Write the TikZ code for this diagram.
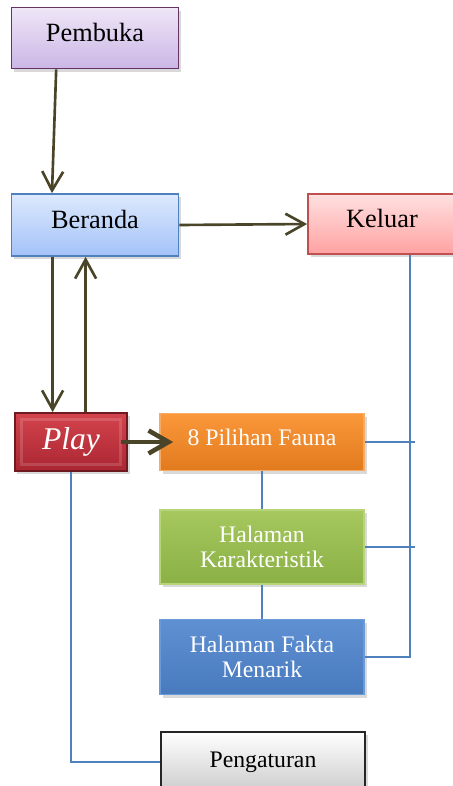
\documentclass[tikz,border=0pt]{standalone}
\usepackage{fontspec}
\setmainfont{Liberation Serif}
\usetikzlibrary{calc,arrows.meta,shadows}

\definecolor{arrowcol}{HTML}{4A4529}
\definecolor{linkcol}{HTML}{4F81BD}

\begin{document}
\begin{tikzpicture}[
    box/.style={rectangle,draw,line width=1pt,inner sep=2pt,align=center,
      drop shadow={opacity=0.3,shadow xshift=0.05,shadow yshift=-0.06}},
    bigtext/.style={font=\fontsize{15}{17}\selectfont,text height=0.3cm,text depth=0.18cm},
    smalltext/.style={font=\fontsize{13.5}{14.2}\selectfont,text=white},
    flow/.style={draw=arrowcol,line width=1.5pt,-{Straight Barb[length=0.38cm,width=0.42cm]}},
    link/.style={draw=linkcol,line width=0.8pt}
  ]
  \clip (0,0) rectangle (9.06,-15.72);
  % top row
  \node[box,bigtext,minimum width=3.34cm,minimum height=1.22cm,draw=violet!50!black!80,
    top color={rgb,255:red,239;green,230;blue,247},bottom color={rgb,255:red,203;green,182;blue,229}]
    (pembuka) at (1.9,-0.76) {Pembuka};
  \node[box,bigtext,minimum width=3.34cm,minimum height=1.24cm,draw=linkcol,
    top color={rgb,255:red,221;green,233;blue,253},bottom color={rgb,255:red,163;green,194;blue,248}]
    (beranda) at (1.9,-4.5) {Beranda};
  \node[box,bigtext,minimum width=2.96cm,minimum height=1.2cm,draw={rgb,255:red,192;green,80;blue,77},
    top color={rgb,255:red,255;green,224;blue,224},bottom color={rgb,255:red,255;green,162;blue,162}]
    (keluar) at (7.64,-4.48) {Keluar};
  % play and pages
  \node[box,minimum width=2.24cm,minimum height=1.16cm,text=white,
    font=\fontsize{18}{20}\selectfont\itshape,draw={rgb,255:red,110;green,26;blue,32},
    top color={rgb,255:red,211;green,67;blue,77},bottom color={rgb,255:red,170;green,38;blue,50},
    path picture={\draw[white,opacity=0.15,line width=2pt]
      ([shift={(0.13,-0.13)}]path picture bounding box.north west) rectangle
      ([shift={(-0.13,0.13)}]path picture bounding box.south east);}]
    (play) at (1.42,-8.84) {Play};
  \node[box,smalltext,text height=0.28cm,text depth=0.16cm,minimum width=4.08cm,minimum height=1.14cm,
    draw={rgb,255:red,247;green,170;blue,100},
    top color={rgb,255:red,250;green,152;blue,58},bottom color={rgb,255:red,226;green,122;blue,30}]
    (pilihan) at (5.24,-8.84) {8 Pilihan Fauna};
  \node[box,smalltext,minimum width=4.08cm,minimum height=1.48cm,draw={rgb,255:red,184;green,212;blue,122},
    top color={rgb,255:red,166;green,200;blue,94},bottom color={rgb,255:red,138;green,176;blue,70}]
    (karakter) at (5.24,-10.94) {Halaman\\Karakteristik};
  \node[box,smalltext,minimum width=4.08cm,minimum height=1.5cm,draw={rgb,255:red,106;green,155;blue,216},
    top color={rgb,255:red,94;green,144;blue,210},bottom color={rgb,255:red,72;green,122;blue,190}]
    (fakta) at (5.24,-13.14) {Halaman Fakta\\Menarik};
  \node[box,font=\fontsize{13.5}{14.2}\selectfont,minimum width=4.08cm,minimum height=1.2cm,draw=black!85,
    top color=white,bottom color=black!20]
    (atur) at (5.26,-15.24) {Pengaturan};
  % arrows
  \draw[flow] ($(pembuka.south west)!0.27!(pembuka.south east)$) -- ($(beranda.north west)!0.245!(beranda.north east)$);
  \coordinate (down) at ($(beranda.south west)+(0.84,0)$);
  \coordinate (up) at ($(beranda.south west)+(1.5,0)$);
  \draw[flow] (down) -- (down |- play.north);
  \draw[flow] (up |- play.north) -- (up);
  \draw[flow] (beranda.east) -- (keluar.west);
  \draw[flow,line width=2.6pt,-{Straight Barb[length=0.4cm,width=0.46cm]}]
    ($(play.east)+(-0.14,0)$) -- ($(pilihan.west)+(0.28,0)$);
  % lines
  \coordinate (kel) at ($(keluar.south west)+(2.06,0)$);
  \draw[link] (kel) -- (kel |- fakta.east) -- (fakta.east);
  \draw[link] (pilihan.east) -- ++(1.0,0);
  \draw[link] (karakter.east) -- ++(1.0,0);
  \draw[link] (pilihan.south) -- (karakter.north);
  \draw[link] (karakter.south) -- (fakta.north);
  \draw[link] (play.south) -- (play.south |- atur.west) -- (atur.west);
\end{tikzpicture}
\end{document}
